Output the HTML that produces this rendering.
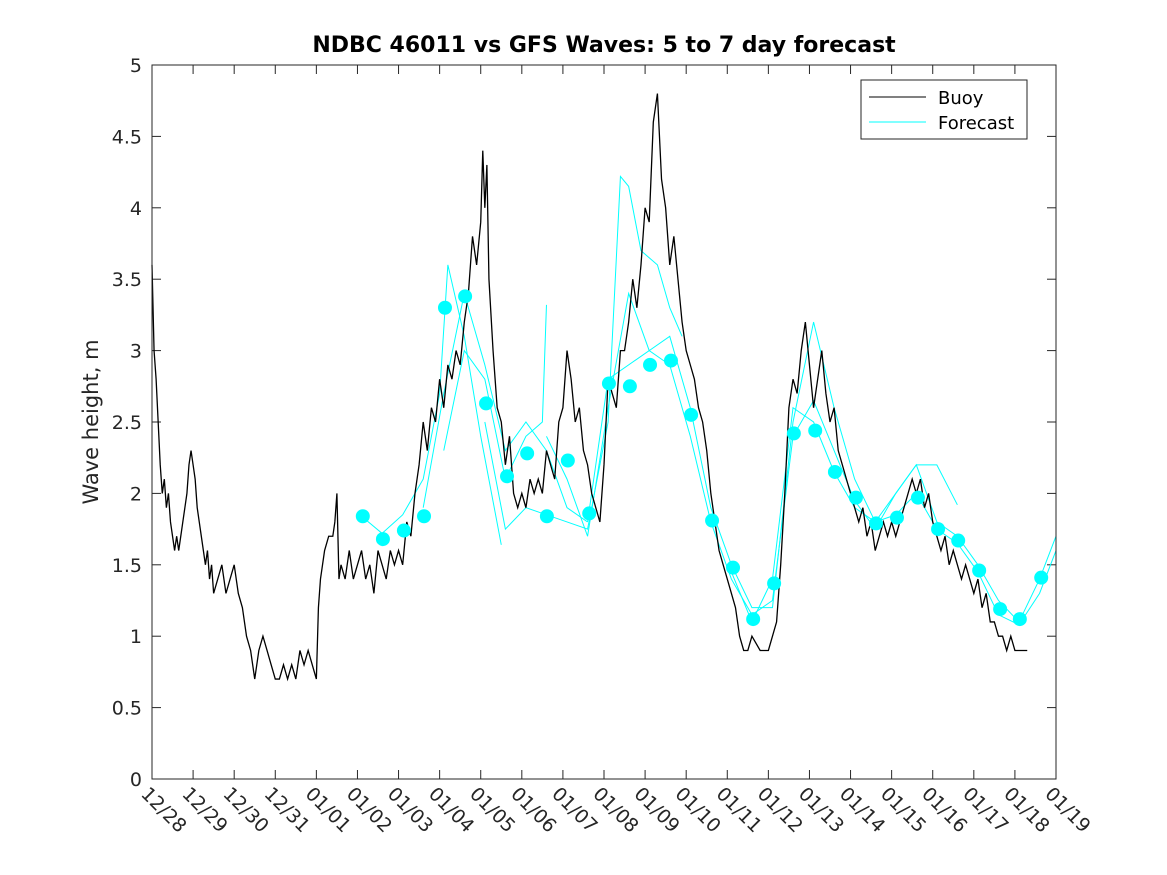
<!DOCTYPE html>
<html><head><meta charset="utf-8"><style>
body{margin:0;background:#fff}
svg{display:block;font-family:"DejaVu Sans","Liberation Sans",sans-serif}
</style></head><body>
<svg id="chart" width="1167" height="875" viewBox="0 0 1167 875">
<rect width="1167" height="875" fill="#fff"/>
<text x="604" y="52" text-anchor="middle" font-size="22" font-weight="bold" fill="#000">NDBC 46011 vs GFS Waves: 5 to 7 day forecast</text>
<text transform="translate(98,422) rotate(-90)" text-anchor="middle" font-size="21" fill="#262626">Wave height, m</text>
<g id="grid"></g>
<g id="series"></g>
<rect x="152" y="65" width="904" height="714" fill="none" stroke="#262626" stroke-width="1"/>
<g>
<rect x="861" y="80" width="166" height="59" fill="#fff" stroke="#262626"/>
<line x1="869" y1="97" x2="926" y2="97" stroke="#000"/>
<text x="938" y="104" font-size="18" fill="#000">Buoy</text>
<line x1="869" y1="122" x2="926" y2="122" stroke="#00ffff"/>
<text x="938" y="129" font-size="18" fill="#000">Forecast</text>
</g>
</svg>
<script>
const xTickLabels=["12/28","12/29","12/30","12/31","01/01","01/02","01/03","01/04","01/05","01/06","01/07","01/08","01/09","01/10","01/11","01/12","01/13","01/14","01/15","01/16","01/17","01/18","01/19"];
const yTicks=[0,0.5,1,1.5,2,2.5,3,3.5,4,4.5,5];
const buoyDays=[
0,0.05,0.1,0.15,0.2,0.25,0.3,0.35,0.4,0.45,
0.5,0.55,0.6,0.65,0.7,0.75,0.8,0.85,0.9,0.95,
1.0,1.05,1.1,1.15,1.2,1.25,1.3,1.35,1.4,1.45,
1.5,1.6,1.7,1.8,1.9,2.0,2.1,2.2,2.3,2.4,
2.5,2.6,2.7,2.8,2.9,3.0,3.1,3.2,3.3,3.4,
3.5,3.6,3.7,3.8,3.9,4.0,4.05,4.1,4.15,4.2,
4.3,4.4,4.45,4.5,4.55,4.6,4.7,4.8,4.9,5.0,
5.1,5.2,5.3,5.4,5.5,5.6,5.7,5.8,5.9,6.0,
6.1,6.2,6.3,6.4,6.5,6.6,6.7,6.8,6.9,7.0,
7.1,7.2,7.3,7.4,7.5,7.6,7.7,7.8,7.9,8.0,
8.05,8.1,8.15,8.2,8.3,8.4,8.5,8.6,8.7,8.8,
8.9,9.0,9.1,9.2,9.3,9.4,9.5,9.6,9.7,9.8,
9.9,10.0,10.1,10.2,10.3,10.4,10.5,10.6,10.7,10.8,
10.9,11.0,11.1,11.2,11.3,11.4,11.5,11.6,11.7,11.8,
11.9,12.0,12.1,12.2,12.3,12.4,12.5,12.6,12.7,12.8,
12.9,13.0,13.1,13.2,13.3,13.4,13.5,13.6,13.7,13.8,
13.9,14.0,14.1,14.2,14.3,14.4,14.5,14.6,14.8,15.0,
15.1,15.2,15.3,15.4,15.5,15.6,15.7,15.8,15.9,16.0,
16.1,16.2,16.3,16.4,16.5,16.6,16.7,16.8,16.9,17.0,
17.1,17.2,17.3,17.4,17.5,17.6,17.7,17.8,17.9,18.0,
18.1,18.2,18.3,18.4,18.5,18.6,18.7,18.8,18.9,19.0,
19.1,19.2,19.3,19.4,19.5,19.6,19.7,19.8,19.9,20.0,
20.1,20.2,20.3,20.4,20.5,20.6,20.7,20.8,20.9,21.0,
21.1,21.2,21.3];
const buoyValues=[
3.6,3.0,2.8,2.5,2.2,2.0,2.1,1.9,2.0,1.8,
1.7,1.6,1.7,1.6,1.7,1.8,1.9,2.0,2.2,2.3,
2.2,2.1,1.9,1.8,1.7,1.6,1.5,1.6,1.4,1.5,
1.3,1.4,1.5,1.3,1.4,1.5,1.3,1.2,1.0,0.9,
0.7,0.9,1.0,0.9,0.8,0.7,0.7,0.8,0.7,0.8,
0.7,0.9,0.8,0.9,0.8,0.7,1.2,1.4,1.5,1.6,
1.7,1.7,1.8,2.0,1.4,1.5,1.4,1.6,1.4,1.5,
1.6,1.4,1.5,1.3,1.6,1.5,1.4,1.6,1.5,1.6,
1.5,1.8,1.7,2.0,2.2,2.5,2.3,2.6,2.5,2.8,
2.6,2.9,2.8,3.0,2.9,3.2,3.4,3.8,3.6,3.9,
4.4,4.0,4.3,3.5,3.0,2.6,2.5,2.2,2.4,2.0,
1.9,2.0,1.9,2.1,2.0,2.1,2.0,2.3,2.2,2.1,
2.5,2.6,3.0,2.8,2.5,2.6,2.3,2.2,2.0,1.9,
1.8,2.2,2.8,2.7,2.6,3.0,3.0,3.2,3.5,3.3,
3.6,4.0,3.9,4.6,4.8,4.2,4.0,3.6,3.8,3.5,
3.2,3.0,2.9,2.8,2.6,2.5,2.3,2.0,1.8,1.6,
1.5,1.4,1.3,1.2,1.0,0.9,0.9,1.0,0.9,0.9,
1.0,1.1,1.5,2.0,2.6,2.8,2.7,3.0,3.2,2.9,
2.6,2.8,3.0,2.7,2.5,2.6,2.3,2.2,2.1,2.0,
1.9,1.8,1.9,1.7,1.8,1.6,1.7,1.8,1.7,1.8,
1.7,1.8,1.9,2.0,2.1,2.0,2.1,1.9,2.0,1.8,
1.7,1.6,1.7,1.5,1.6,1.5,1.4,1.5,1.4,1.3,
1.4,1.2,1.3,1.1,1.1,1.0,1.0,0.9,1.0,0.9,
0.9,0.9,0.9];
const dotDays=[5.13,5.62,6.13,6.62,7.13,7.62,8.13,8.64,9.13,9.61,10.12,10.64,11.12,11.63,12.12,12.63,13.12,13.63,14.14,14.63,15.14,15.62,16.14,16.62,17.13,17.62,18.13,18.64,19.13,19.62,20.13,20.64,21.12,21.64];
const dotValues=[1.84,1.68,1.74,1.84,3.30,3.38,2.63,2.12,2.28,1.84,2.23,1.86,2.77,2.75,2.90,2.93,2.55,1.81,1.48,1.12,1.37,2.42,2.44,2.15,1.97,1.79,1.83,1.97,1.75,1.67,1.46,1.19,1.12,1.41];
const runDays=[
[5.1,5.6,6.1,6.6,7.0,7.2,7.6,8.0,8.5],
[6.6,7.1,7.6,8.1,8.6,9.1,9.6,10.1,10.6],
[7.1,7.6,8.1,8.6,9.1,9.5,9.6],
[8.1,8.6,9.1,9.6,10.1,10.6,11.1,11.4,11.6,11.9,12.3,12.6,12.9],
[9.6,10.1,10.6,11.1,11.6,12.1,12.6,13.1,13.6,14.1,14.6,15.1,15.6,16.1,16.6,17.1,17.6,18.1,18.6,19.1,19.6],
[10.6,11.1,11.6,12.1,12.6,13.1,13.6,14.1,14.6,15.1,15.6,16.1,16.6,17.1,17.6,18.1,18.6,19.1,19.6,20.1,20.6,21.1,21.6,22],
[14.1,14.6,15.1,15.6,16.1,16.6,17.1,17.6,18.1,18.6,19.1,19.6,20.1,20.6,21.1,21.6,22]];
const runValues=[
[1.84,1.72,1.85,2.1,2.7,3.6,3.1,2.4,1.64],
[1.9,2.7,3.4,2.9,2.3,2.5,2.3,1.9,1.8],
[2.3,3.0,2.8,2.1,2.4,2.5,3.32],
[2.5,1.75,1.9,1.85,1.8,1.75,2.5,4.22,4.15,3.7,3.6,3.3,3.1],
[2.4,2.1,1.7,2.6,3.4,3.0,3.1,2.6,1.9,1.5,1.2,1.2,2.5,3.2,2.6,2.1,1.8,2.0,2.2,2.2,1.92],
[1.8,2.8,2.9,3.0,2.9,2.4,1.8,1.4,1.15,1.25,2.4,2.65,2.3,1.95,1.75,2.0,2.2,1.8,1.7,1.5,1.25,1.1,1.4,1.7],
[1.45,1.1,1.4,2.6,2.5,2.15,1.9,1.8,1.85,2.0,1.75,1.65,1.45,1.15,1.08,1.3,1.6]];
const NS="http://www.w3.org/2000/svg";
const X0=152,X1=1056,Y0=779,Y1=65;
const xs=d=>X0+(X1-X0)*d/22;
const ys=v=>Y0-(Y0-Y1)*v/5;
const grid=document.getElementById('grid'),ser=document.getElementById('series');
function mk(tag,attrs,parent){const e=document.createElementNS(NS,tag);for(const k in attrs)e.setAttribute(k,attrs[k]);parent.appendChild(e);return e;}
xTickLabels.forEach((t,i)=>{const x=xs(i);
 const a=mk('line',{x1:x,y1:Y0,x2:x,y2:Y0-9,stroke:'#262626'},grid);
 
 
 const b=mk('line',{x1:x,y1:Y1,x2:x,y2:Y1+9,stroke:'#262626'},grid);
 
 
 const tx=mk('text',{transform:`translate(${x-12},${Y0+16}) rotate(45)`,'font-size':19,fill:'#262626'},grid);
 tx.textContent=t;
 
 
});
yTicks.forEach(v=>{const y=ys(v);
 const a=mk('line',{x1:X0,y1:y,x2:X0+9,y2:y,stroke:'#262626'},grid);
 
 
 const b=mk('line',{x1:X1,y1:y,x2:X1-9,y2:y,stroke:'#262626'},grid);
 
 
 const tx=mk('text',{x:X0-10,y:y+7,'text-anchor':'end','font-size':19,fill:'#262626'},grid);
 tx.textContent=String(v);
 
 
});
runDays.forEach((dd,r)=>{
 const p=mk('polyline',{points:dd.map((d,i)=>xs(d)+','+ys(runValues[r][i])).join(' '),fill:'none',stroke:'#00ffff','stroke-width':1},ser);
 
 
});
const bl=mk('polyline',{points:buoyDays.map((d,i)=>xs(d)+','+ys(buoyValues[i])).join(' '),fill:'none',stroke:'#000','stroke-width':1.3},ser);


dotDays.forEach((d,i)=>{
 const c=mk('circle',{cx:xs(d),cy:ys(dotValues[i]),r:7,fill:'#00ffff'},ser);
 
 
});
</script>
</body></html>
